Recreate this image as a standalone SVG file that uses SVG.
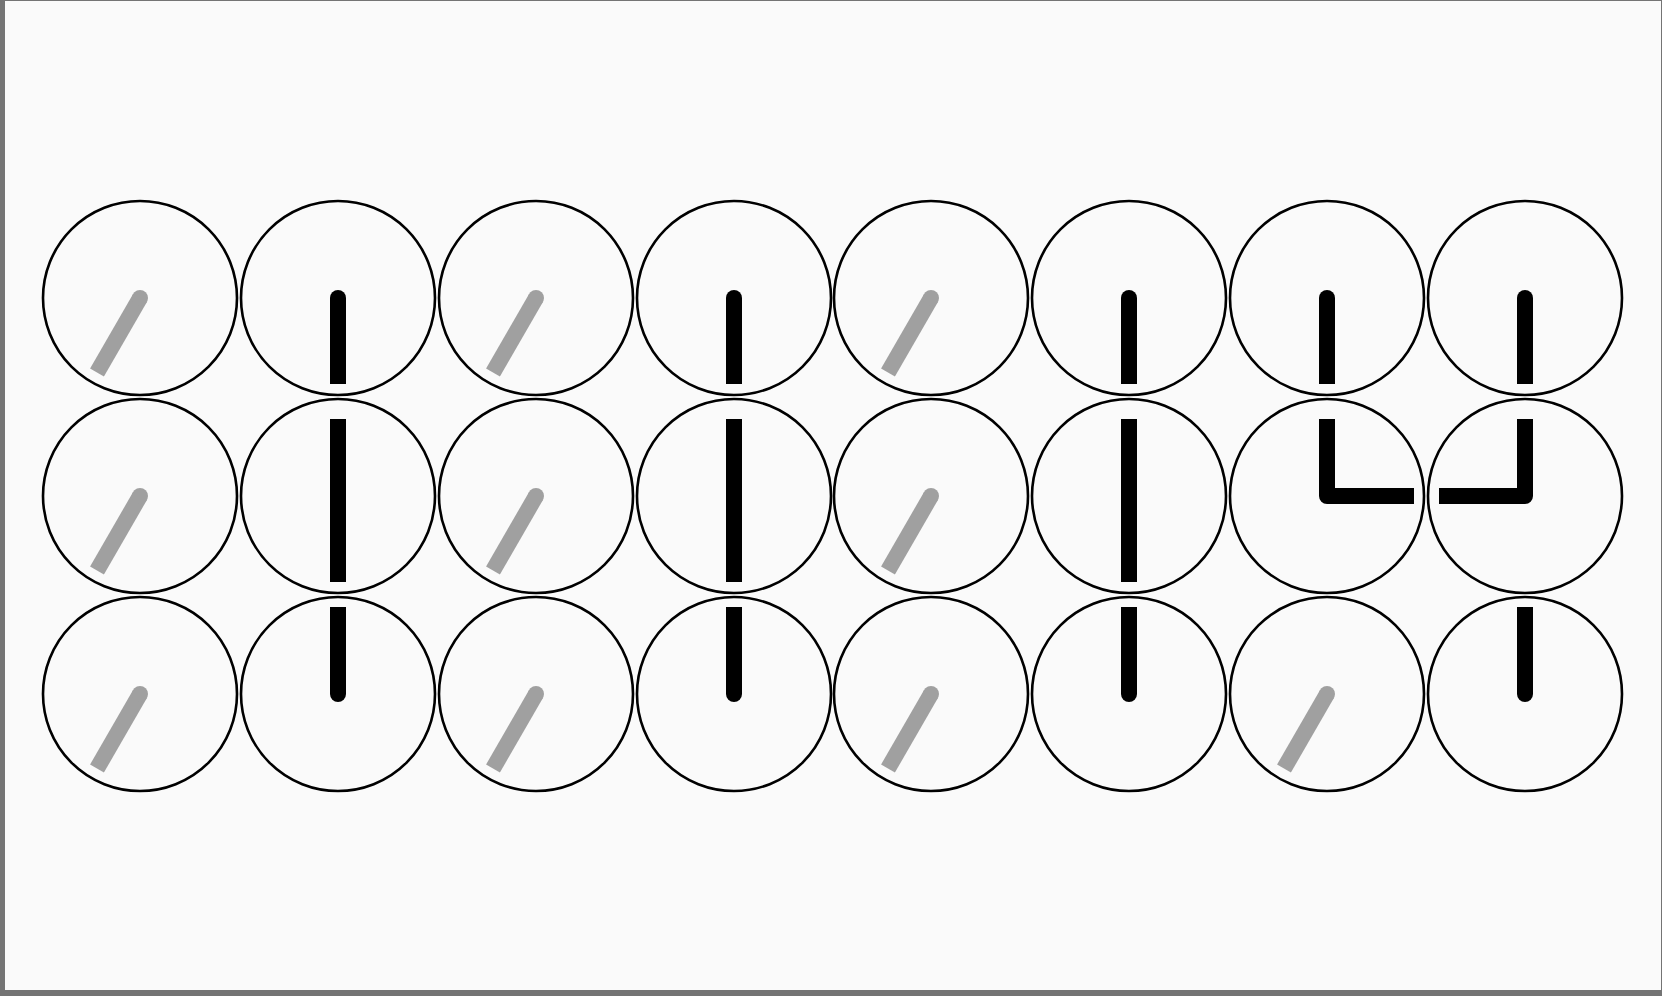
<svg xmlns="http://www.w3.org/2000/svg" xmlns:xlink="http://www.w3.org/1999/xlink" width="1662" height="996" viewBox="0 0 1662 996">
<style>
.face{fill:none;stroke:#000;stroke-width:2.6}
.g{stroke:#a0a0a0;stroke-width:16;stroke-linecap:butt;fill:none}
.gd{fill:#a0a0a0}
.b{stroke:#000;stroke-width:16;stroke-linecap:butt;stroke-linejoin:round;fill:none}
.bd{fill:#000}
</style>
<defs>
<g id="gray"><line class="g" x1="0" y1="0" x2="-43" y2="74.5"/><circle class="gd" r="8"/></g>
<g id="down"><line class="b" x1="0" y1="0" x2="0" y2="86"/><circle class="bd" r="8"/></g>
<g id="up"><line class="b" x1="0" y1="0" x2="0" y2="-87"/><circle class="bd" r="8"/></g>
<g id="updown"><line class="b" x1="0" y1="-77" x2="0" y2="86"/></g>
<g id="upright"><path class="b" d="M0,-77 L0,0 L87,0"/></g>
<g id="upleft"><path class="b" d="M0,-77 L0,0 L-86,0"/></g>
</defs>
<rect x="0" y="0" width="1662" height="996" fill="#747474"/>
<rect x="5" y="1" width="1656" height="989" fill="#fafafa"/>
<g id="connectors"></g>
<g id="n0-0" transform="translate(140,298)"><circle class="face" r="97"/><use xlink:href="#gray"/></g>
<g id="n0-1" transform="translate(338,298)"><circle class="face" r="97"/><use xlink:href="#down"/></g>
<g id="n0-2" transform="translate(536,298)"><circle class="face" r="97"/><use xlink:href="#gray"/></g>
<g id="n0-3" transform="translate(734,298)"><circle class="face" r="97"/><use xlink:href="#down"/></g>
<g id="n0-4" transform="translate(931,298)"><circle class="face" r="97"/><use xlink:href="#gray"/></g>
<g id="n0-5" transform="translate(1129,298)"><circle class="face" r="97"/><use xlink:href="#down"/></g>
<g id="n0-6" transform="translate(1327,298)"><circle class="face" r="97"/><use xlink:href="#down"/></g>
<g id="n0-7" transform="translate(1525,298)"><circle class="face" r="97"/><use xlink:href="#down"/></g>
<g id="n1-0" transform="translate(140,496)"><circle class="face" r="97"/><use xlink:href="#gray"/></g>
<g id="n1-1" transform="translate(338,496)"><circle class="face" r="97"/><use xlink:href="#updown"/></g>
<g id="n1-2" transform="translate(536,496)"><circle class="face" r="97"/><use xlink:href="#gray"/></g>
<g id="n1-3" transform="translate(734,496)"><circle class="face" r="97"/><use xlink:href="#updown"/></g>
<g id="n1-4" transform="translate(931,496)"><circle class="face" r="97"/><use xlink:href="#gray"/></g>
<g id="n1-5" transform="translate(1129,496)"><circle class="face" r="97"/><use xlink:href="#updown"/></g>
<g id="n1-6" transform="translate(1327,496)"><circle class="face" r="97"/><use xlink:href="#upright"/></g>
<g id="n1-7" transform="translate(1525,496)"><circle class="face" r="97"/><use xlink:href="#upleft"/></g>
<g id="n2-0" transform="translate(140,694)"><circle class="face" r="97"/><use xlink:href="#gray"/></g>
<g id="n2-1" transform="translate(338,694)"><circle class="face" r="97"/><use xlink:href="#up"/></g>
<g id="n2-2" transform="translate(536,694)"><circle class="face" r="97"/><use xlink:href="#gray"/></g>
<g id="n2-3" transform="translate(734,694)"><circle class="face" r="97"/><use xlink:href="#up"/></g>
<g id="n2-4" transform="translate(931,694)"><circle class="face" r="97"/><use xlink:href="#gray"/></g>
<g id="n2-5" transform="translate(1129,694)"><circle class="face" r="97"/><use xlink:href="#up"/></g>
<g id="n2-6" transform="translate(1327,694)"><circle class="face" r="97"/><use xlink:href="#gray"/></g>
<g id="n2-7" transform="translate(1525,694)"><circle class="face" r="97"/><use xlink:href="#up"/></g>
</svg>
